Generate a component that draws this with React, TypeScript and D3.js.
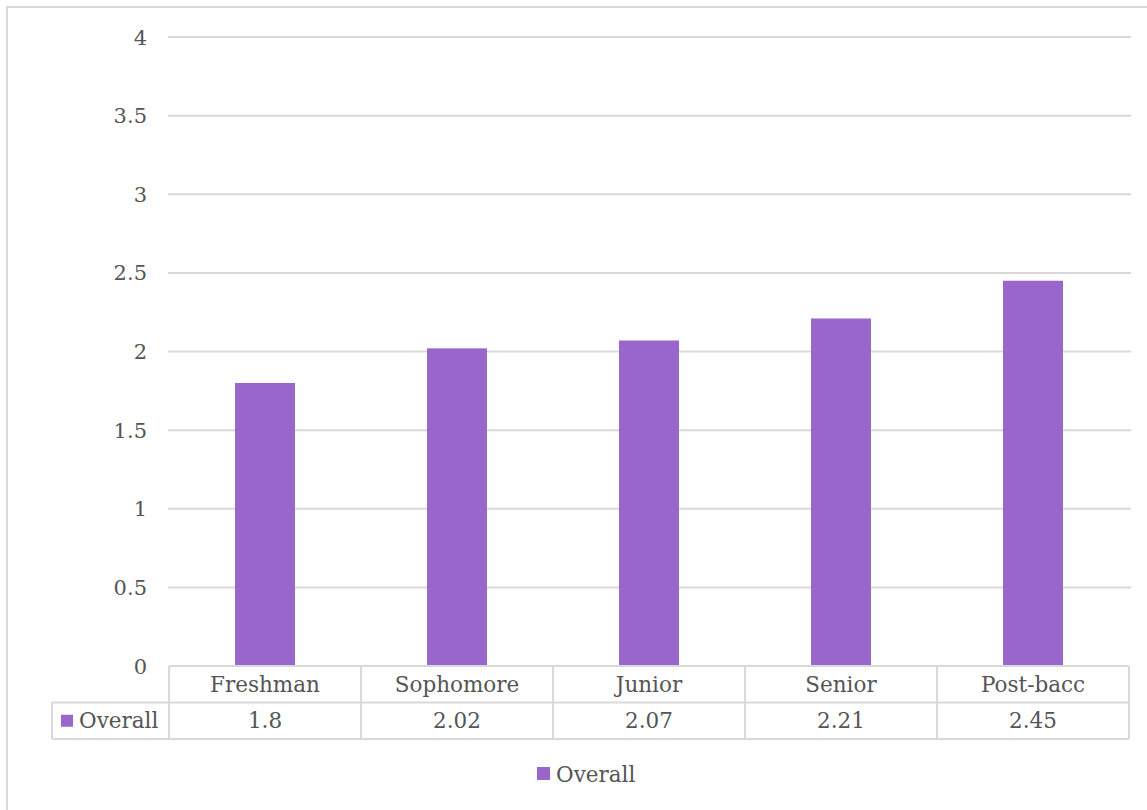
import React from "react";
import * as d3 from "d3";

const categories = ["Freshman", "Sophomore", "Junior", "Senior", "Post-bacc"];
const overall = [1.8, 2.02, 2.07, 2.21, 2.45];
const yTicks = [0, 0.5, 1, 1.5, 2, 2.5, 3, 3.5, 4];
const seriesName = "Overall";

const W = 1147;
const H = 810;
const plotLeft = 169;
const plotRight = 1129;
const plotTop = 37;
const plotBottom = 666;
const rowH = 36.5;
const legendLeft = 52;
const BAR = "#9966CC";
const GRID = "#D9D9D9";
const TEXT = "#555555";
const FONT = "'DejaVu Serif', serif";
const FS = 21.5;

export default function App() {
  const y = d3.scaleLinear().domain([0, 4]).range([plotBottom, plotTop]);
  const x = d3.scaleBand<string>().domain(categories).range([plotLeft, plotRight]);
  const barW = 60;
  const row1 = plotBottom + rowH;
  const row2 = plotBottom + 2 * rowH;
  const fmt = (v: number) => String(v);

  return (
    <svg
      width={W}
      height={H}
      style={{ position: "absolute", left: 0, top: 0, background: "#fff" }}
      fontFamily={FONT}
    >
      <rect x={7} y={7} width={W + 10} height={H + 10} fill="#fff" stroke={GRID} strokeWidth={2} />
      {yTicks.map((t) => (
        <g key={t}>
          {t > 0 && (
            <line x1={plotLeft - 1} x2={1131} y1={y(t)} y2={y(t)} stroke={GRID} strokeWidth={2} />
          )}
          <text x={147} y={y(t)} dy="0.36em" textAnchor="end" fontSize={21} fill={TEXT}>
            {fmt(t)}
          </text>
        </g>
      ))}
      {categories.map((c, i) => (
        <rect
          key={c}
          x={(x(c) as number) + x.bandwidth() / 2 - barW / 2}
          y={y(overall[i])}
          width={barW}
          height={plotBottom - y(overall[i])}
          fill={BAR}
        />
      ))}
      {/* data table */}
      <g stroke={GRID} strokeWidth={2} fill="none">
        <line x1={plotLeft} x2={plotRight} y1={plotBottom} y2={plotBottom} />
        <line x1={legendLeft} x2={plotRight} y1={row1} y2={row1} />
        <line x1={legendLeft} x2={plotRight} y1={row2} y2={row2} />
        <line x1={legendLeft} x2={legendLeft} y1={row1} y2={row2} />
        {categories.map((c) => (
          <line key={c} x1={x(c) as number} x2={x(c) as number} y1={plotBottom} y2={row2} />
        ))}
        <line x1={plotRight} x2={plotRight} y1={plotBottom} y2={row2} />
      </g>
      {categories.map((c, i) => (
        <g key={c}>
          <text
            x={(x(c) as number) + x.bandwidth() / 2}
            y={(plotBottom + row1) / 2}
            dy="0.36em"
            textAnchor="middle"
            fontSize={FS}
            fill={TEXT}
          >
            {c}
          </text>
          <text
            x={(x(c) as number) + x.bandwidth() / 2}
            y={(row1 + row2) / 2}
            dy="0.36em"
            textAnchor="middle"
            fontSize={FS}
            fill={TEXT}
          >
            {fmt(overall[i])}
          </text>
        </g>
      ))}
      <rect x={61} y={(row1 + row2) / 2 - 6} width={12} height={12} fill={BAR} />
      <text x={79} y={(row1 + row2) / 2} dy="0.36em" fontSize={FS} fill={TEXT}>
        {seriesName}
      </text>
      {/* legend */}
      <rect x={537} y={767} width={13} height={13} fill={BAR} />
      <text x={556} y={774} dy="0.36em" fontSize={FS} fill={TEXT}>
        {seriesName}
      </text>
    </svg>
  );
}
